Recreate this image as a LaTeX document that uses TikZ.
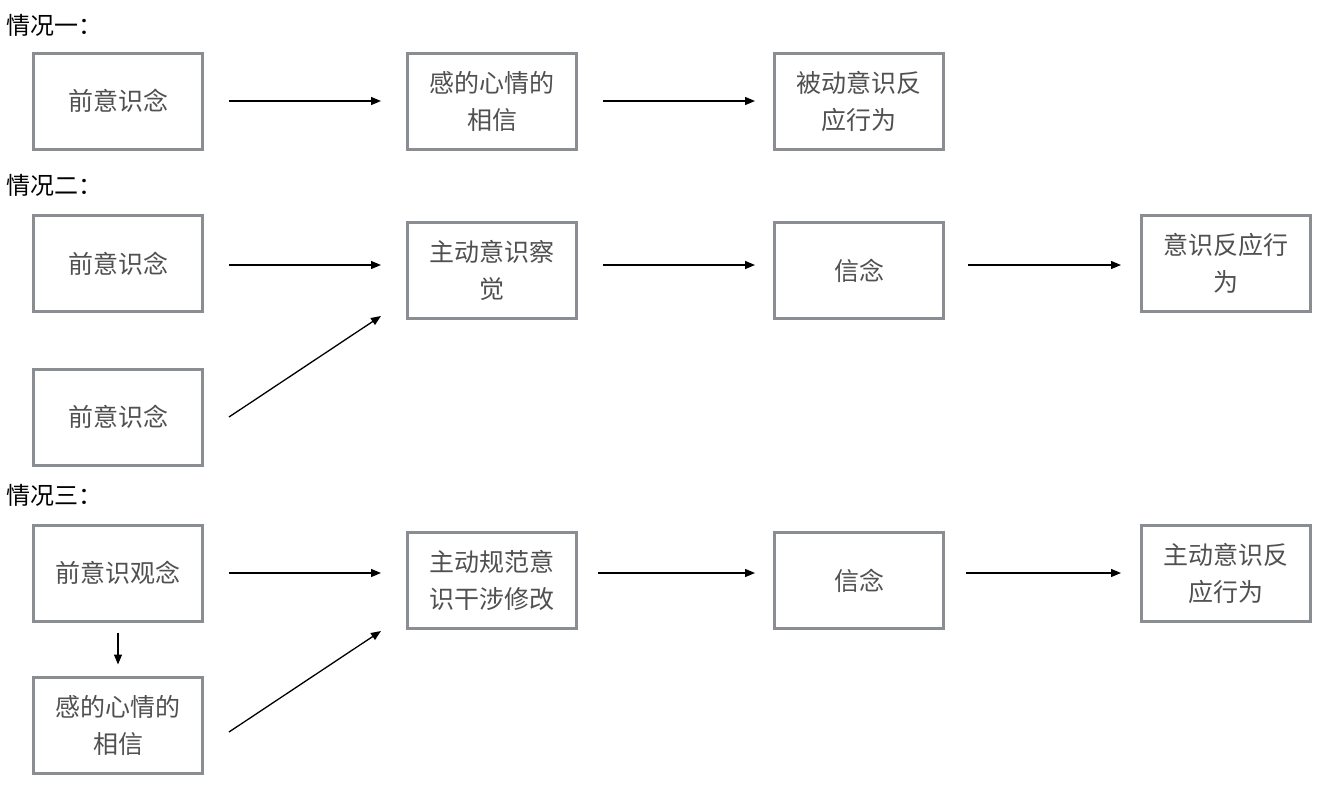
\documentclass[tikz,border=0pt]{standalone}
\usepackage{fontspec}
\newfontfamily\cjk{Noto Sans CJK SC}
\usetikzlibrary{arrows.meta,calc}
\definecolor{boxgray}{HTML}{8A8D91}
\definecolor{txtgray}{HTML}{505050}
\begin{document}
\begin{tikzpicture}[x=1pt,y=-1pt,
  box/.style={draw=boxgray, line width=3pt, minimum width=169pt, minimum height=96pt, inner sep=0pt, align=center, font=\cjk\fontsize{25}{37}\selectfont, text=txtgray},
  arr/.style={line width=1.3pt, -{Triangle[length=10pt,width=8pt]}},
  head/.style={anchor=west, font=\cjk\fontsize{24}{26}\selectfont, text=black, inner sep=0pt}]
\useasboundingbox[fill=white] (0,0) rectangle (1326,790);

% headings
\node[head] (h1) at (6,25) {情况一：};
\node[head] (h2) at (6,185) {情况二：};
\node[head] (h3) at (6,495) {情况三：};

% row 1
\node[box] (a1) at (118,101) {前意识念};
\node[box] (b1) at (492,101) {感的心情的\\相信};
\node[box] (c1) at (859,101) {被动意识反\\应行为};

% row 2
\node[box] (a2) at (118,263.5) {前意识念};
\node[box] (a2b) at (118,417) {前意识念};
\node[box] (b2) at (492,270.5) {主动意识察\\觉};
\node[box] (c2) at (859,270.5) {信念};
\node[box] (d2) at (1226,263.5) {意识反应行\\为};

% row 3
\node[box] (a3) at (118,573) {前意识观念};
\node[box] (a3b) at (118,725) {感的心情的\\相信};
\node[box] (b3) at (492,580.5) {主动规范意\\识干涉修改};
\node[box] (c3) at (859,580.5) {信念};
\node[box] (d3) at (1226,573) {主动意识反\\应行为};

% arrows row 1
\draw[arr] ([xshift=25pt]a1.east) -- ([xshift=-25pt]b1.west);
\draw[arr] ([xshift=25pt]b1.east) -- ([xshift=-18pt]c1.west);

% arrows row 2
\coordinate (p21) at ([xshift=25pt,yshift=-1.5pt]a2.east);
\draw[arr] (p21) -- ([xshift=-25pt]b2.west |- p21);
\coordinate (s2) at ([xshift=25pt]a2b.east);
\coordinate (e2) at ([xshift=-25pt,yshift=4pt]b2.south west);
\draw[arr] (s2) -- (e2);
\coordinate (p22) at ([xshift=25pt]b2.east |- p21);
\draw[arr] (p22) -- ([xshift=-18pt]c2.west |- p21);
\coordinate (p23) at ([xshift=23pt]c2.east |- p21);
\draw[arr] (p23) -- ([xshift=-19pt]d2.west |- p21);

% arrows row 3
\coordinate (p31) at ([xshift=25pt]a3.east);
\draw[arr] (p31) -- ([xshift=-25pt]b3.west |- p31);
\draw[arr] ([yshift=-10pt]a3.south) -- ([yshift=11pt]a3b.north);
\coordinate (s3) at ([xshift=25pt,yshift=-7pt]a3b.east);
\coordinate (e3) at ([xshift=-25pt,yshift=-1pt]b3.south west);
\draw[arr] (s3) -- (e3);
\coordinate (p32) at ([xshift=20pt]b3.east |- p31);
\draw[arr] (p32) -- ([xshift=-18pt]c3.west |- p31);
\coordinate (p33) at ([xshift=21pt]c3.east |- p31);
\draw[arr] (p33) -- ([xshift=-19pt]d3.west |- p31);
\end{tikzpicture}
\end{document}
